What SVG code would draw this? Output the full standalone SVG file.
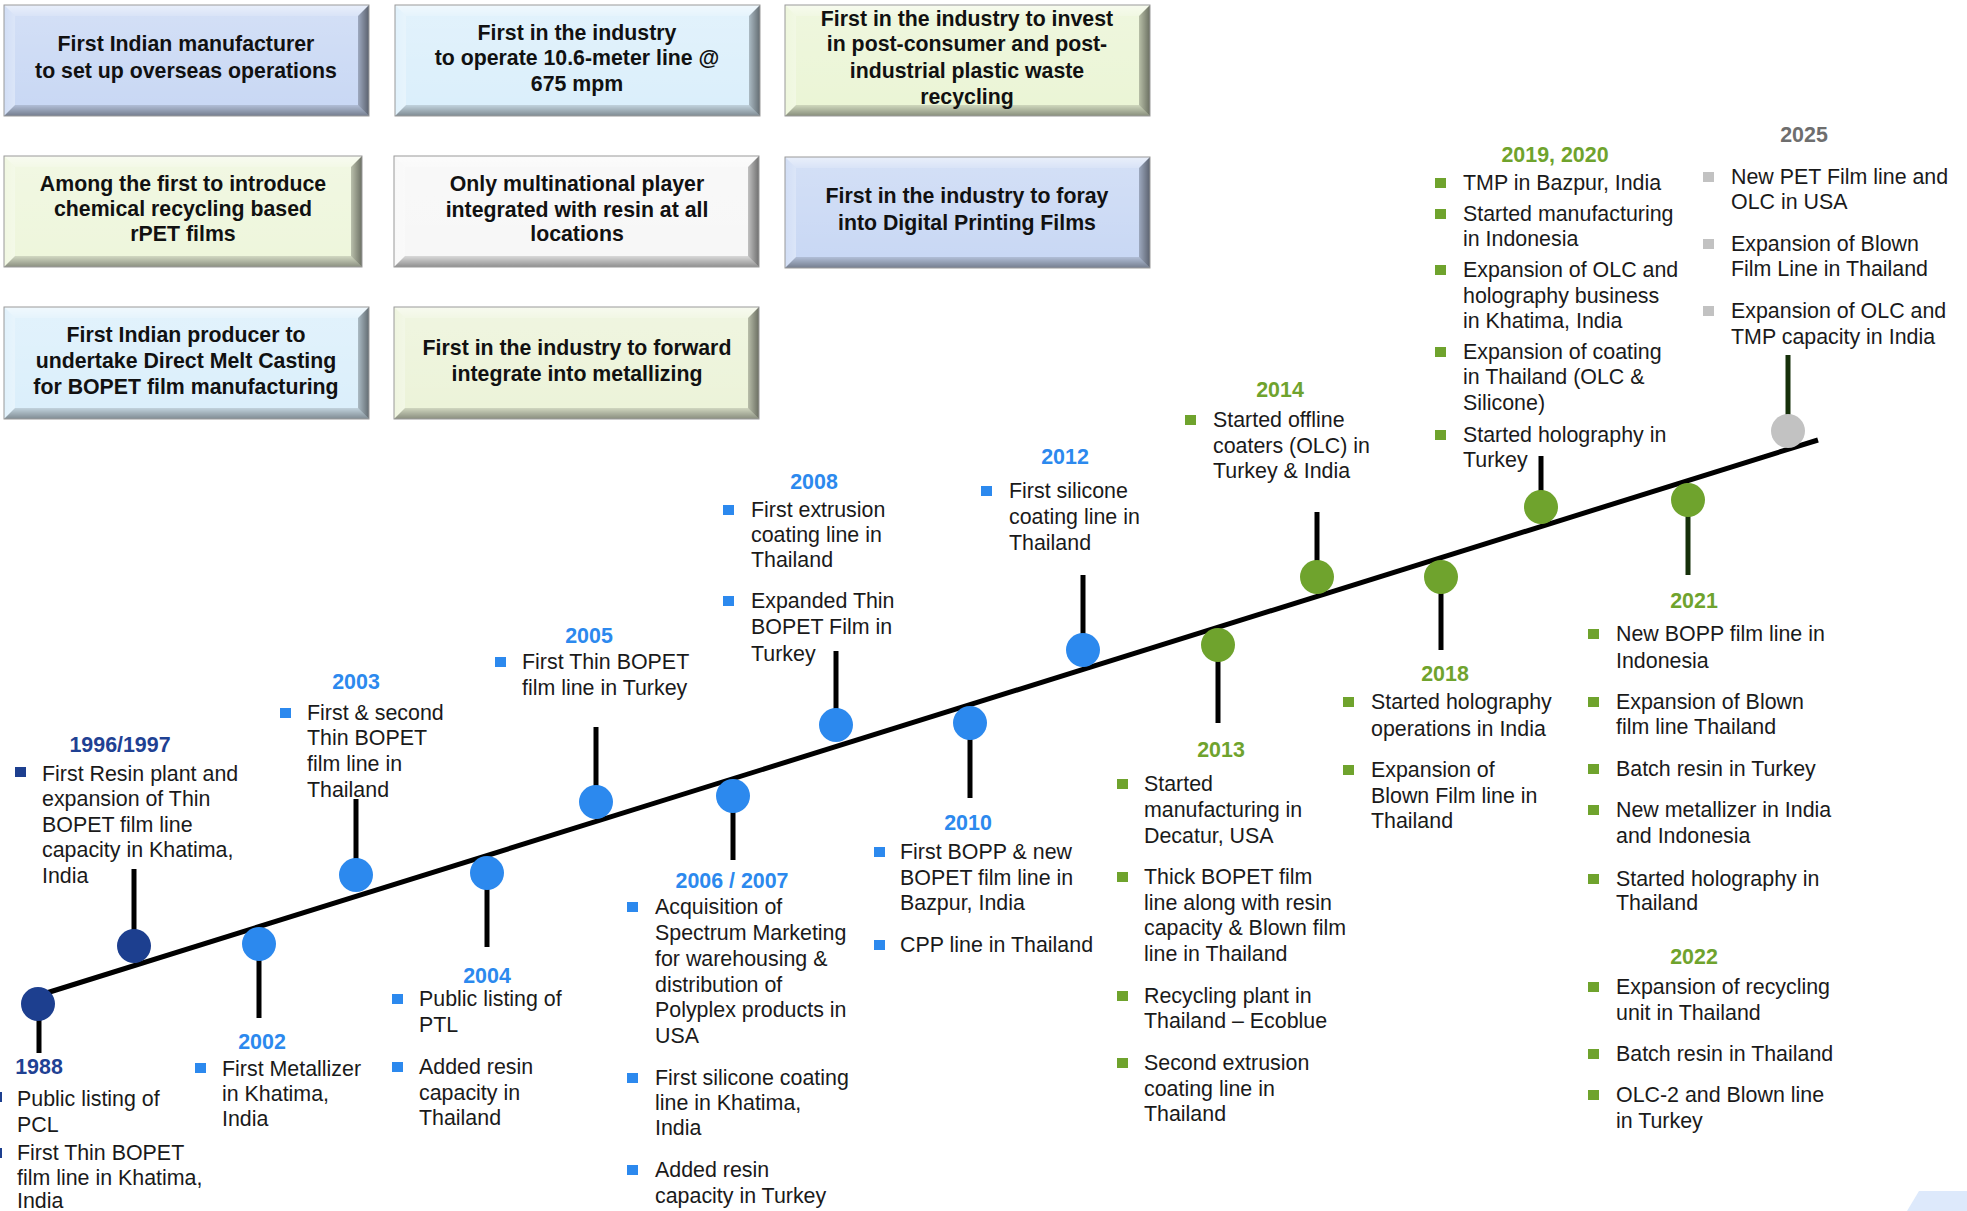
<svg xmlns="http://www.w3.org/2000/svg" width="1967" height="1211" viewBox="0 0 1967 1211">
<style>
.bt{font-family:"Liberation Sans",Arial,sans-serif;font-weight:bold;font-size:21.3px;fill:#111;text-anchor:middle}
.t{font-family:"Liberation Sans",Arial,sans-serif;font-size:21.4px;fill:#1a1a1a}
.y{font-family:"Liberation Sans",Arial,sans-serif;font-weight:bold;font-size:21.4px;text-anchor:middle}
.navy{fill:#1d3f8f}.blue{fill:#2c89ee}.green{fill:#6fa32d}.gray{fill:#c2c2c2}.gtxt{fill:#6e6e6e}
.stem{stroke:#000;stroke-width:5}
.stemg{stroke:#16300a;stroke-width:5}
.bvt{fill:url(#gTop)}.bvl{fill:url(#gLeft)}.bvb{fill:url(#gBot)}.bvr{fill:url(#gRight)}
.edge{fill:none;stroke:#9a9a9a;stroke-width:1}
</style>
<defs>
<linearGradient id="gTop" x1="0" y1="0" x2="0" y2="1"><stop offset="0" stop-color="#fff" stop-opacity="0.6"/><stop offset="1" stop-color="#fff" stop-opacity="0.3"/></linearGradient>
<linearGradient id="gLeft" x1="0" y1="0" x2="1" y2="0"><stop offset="0" stop-color="#fff" stop-opacity="0.15"/><stop offset="1" stop-color="#fff" stop-opacity="0.35"/></linearGradient>
<linearGradient id="gBot" x1="0" y1="0" x2="0" y2="1"><stop offset="0" stop-color="#000" stop-opacity="0.12"/><stop offset="1" stop-color="#000" stop-opacity="0.42"/></linearGradient>
<linearGradient id="gRight" x1="0" y1="0" x2="1" y2="0"><stop offset="0" stop-color="#000" stop-opacity="0.22"/><stop offset="1" stop-color="#000" stop-opacity="0.55"/></linearGradient>
<linearGradient id="gFace" x1="0" y1="0" x2="0" y2="1"><stop offset="0" stop-color="#fff" stop-opacity="0.18"/><stop offset="1" stop-color="#fff" stop-opacity="0"/></linearGradient>
</defs>

<!-- Top boxes -->
<g id="box1">
<rect x="4" y="5" width="365" height="111" fill="#c9d8f4"/><rect x="15" y="16" width="343" height="89" fill="url(#gFace)"/>
<polygon class="bvt" points="4,5 369,5 358,16 15,16"/><polygon class="bvl" points="4,5 15,16 15,105 4,116"/><polygon class="bvb" points="4,116 15,105 358,105 369,116"/><polygon class="bvr" points="369,5 369,116 358,105 358,16"/>
<rect class="edge" x="4" y="5" width="365" height="111"/>
<text class="bt" x="186" y="51">First Indian manufacturer</text><text class="bt" x="186" y="78">to set up overseas operations</text>
</g>
<g id="box2">
<rect x="395" y="5" width="365" height="111" fill="#dbeffb"/><rect x="406" y="16" width="343" height="89" fill="url(#gFace)"/>
<polygon class="bvt" points="395,5 760,5 749,16 406,16"/><polygon class="bvl" points="395,5 406,16 406,105 395,116"/><polygon class="bvb" points="395,116 406,105 749,105 760,116"/><polygon class="bvr" points="760,5 760,116 749,105 749,16"/>
<rect class="edge" x="395" y="5" width="365" height="111"/>
<text class="bt" x="577" y="40">First in the industry</text><text class="bt" x="577" y="65">to operate 10.6-meter line @</text><text class="bt" x="577" y="91">675 mpm</text>
</g>
<g id="box3">
<rect x="785" y="5" width="365" height="111" fill="#ebf5d6"/><rect x="796" y="16" width="343" height="89" fill="url(#gFace)"/>
<polygon class="bvt" points="785,5 1150,5 1139,16 796,16"/><polygon class="bvl" points="785,5 796,16 796,105 785,116"/><polygon class="bvb" points="785,116 796,105 1139,105 1150,116"/><polygon class="bvr" points="1150,5 1150,116 1139,105 1139,16"/>
<rect class="edge" x="785" y="5" width="365" height="111"/>
<text class="bt" x="967" y="26">First in the industry to invest</text><text class="bt" x="967" y="51">in post-consumer and post-</text><text class="bt" x="967" y="78">industrial plastic waste</text><text class="bt" x="967" y="104">recycling</text>
</g>
<g id="box4">
<rect x="4" y="156" width="358" height="111" fill="#eef6dc"/><rect x="15" y="167" width="336" height="89" fill="url(#gFace)"/>
<polygon class="bvt" points="4,156 362,156 351,167 15,167"/><polygon class="bvl" points="4,156 15,167 15,256 4,267"/><polygon class="bvb" points="4,267 15,256 351,256 362,267"/><polygon class="bvr" points="362,156 362,267 351,256 351,167"/>
<rect class="edge" x="4" y="156" width="358" height="111"/>
<text class="bt" x="183" y="191">Among the first to introduce</text><text class="bt" x="183" y="216">chemical recycling based</text><text class="bt" x="183" y="241">rPET films</text>
</g>
<g id="box5">
<rect x="394" y="156" width="365" height="111" fill="#f7f7f7"/><rect x="405" y="167" width="343" height="89" fill="url(#gFace)"/>
<polygon class="bvt" points="394,156 759,156 748,167 405,167"/><polygon class="bvl" points="394,156 405,167 405,256 394,267"/><polygon class="bvb" points="394,267 405,256 748,256 759,267"/><polygon class="bvr" points="759,156 759,267 748,256 748,167"/>
<rect class="edge" x="394" y="156" width="365" height="111"/>
<text class="bt" x="577" y="191">Only multinational player</text><text class="bt" x="577" y="217">integrated with resin at all</text><text class="bt" x="577" y="241">locations</text>
</g>
<g id="box6">
<rect x="785" y="157" width="365" height="111" fill="#c9d8f4"/><rect x="796" y="168" width="343" height="89" fill="url(#gFace)"/>
<polygon class="bvt" points="785,157 1150,157 1139,168 796,168"/><polygon class="bvl" points="785,157 796,168 796,257 785,268"/><polygon class="bvb" points="785,268 796,257 1139,257 1150,268"/><polygon class="bvr" points="1150,157 1150,268 1139,257 1139,168"/>
<rect class="edge" x="785" y="157" width="365" height="111"/>
<text class="bt" x="967" y="203">First in the industry to foray</text><text class="bt" x="967" y="230">into Digital Printing Films</text>
</g>
<g id="box7">
<rect x="4" y="307" width="365" height="112" fill="#dbeffb"/><rect x="15" y="318" width="343" height="90" fill="url(#gFace)"/>
<polygon class="bvt" points="4,307 369,307 358,318 15,318"/><polygon class="bvl" points="4,307 15,318 15,408 4,419"/><polygon class="bvb" points="4,419 15,408 358,408 369,419"/><polygon class="bvr" points="369,307 369,419 358,408 358,318"/>
<rect class="edge" x="4" y="307" width="365" height="112"/>
<text class="bt" x="186" y="342">First Indian producer to</text><text class="bt" x="186" y="368">undertake Direct Melt Casting</text><text class="bt" x="186" y="394">for BOPET film manufacturing</text>
</g>
<g id="box8">
<rect x="394" y="307" width="365" height="112" fill="#ecf3d9"/><rect x="405" y="318" width="343" height="90" fill="url(#gFace)"/>
<polygon class="bvt" points="394,307 759,307 748,318 405,318"/><polygon class="bvl" points="394,307 405,318 405,408 394,419"/><polygon class="bvb" points="394,419 405,408 748,408 759,419"/><polygon class="bvr" points="759,307 759,419 748,408 748,318"/>
<rect class="edge" x="394" y="307" width="365" height="112"/>
<text class="bt" x="577" y="355">First in the industry to forward</text><text class="bt" x="577" y="381">integrate into metallizing</text>
</g>

<!-- Connectors: timeline axis and stems -->
<g id="connectors">
<line x1="40" y1="995" x2="1818" y2="440" stroke="#000" stroke-width="5"/>
<line class="stem" x1="39" y1="1004" x2="39" y2="1053"/>
<line class="stem" x1="134" y1="869" x2="134" y2="946"/>
<line class="stem" x1="259" y1="944" x2="259" y2="1018"/>
<line class="stem" x1="356" y1="799" x2="356" y2="875"/>
<line class="stem" x1="487" y1="873" x2="487" y2="947"/>
<line class="stem" x1="596" y1="727" x2="596" y2="802"/>
<line class="stem" x1="733" y1="796" x2="733" y2="860"/>
<line class="stem" x1="836" y1="651" x2="836" y2="725"/>
<line class="stem" x1="970" y1="723" x2="970" y2="798"/>
<line class="stem" x1="1083" y1="575" x2="1083" y2="650"/>
<line class="stem" x1="1218" y1="645" x2="1218" y2="723"/>
<line class="stem" x1="1317" y1="512" x2="1317" y2="577"/>
<line class="stem" x1="1441" y1="577" x2="1441" y2="650"/>
<line class="stem" x1="1541" y1="456" x2="1541" y2="507"/>
<line class="stemg" x1="1688" y1="500" x2="1688" y2="575"/>
<line class="stemg" x1="1788" y1="355" x2="1788" y2="431"/>
</g>

<!-- Milestones -->
<g id="m1988">
<circle class="navy" cx="38" cy="1004" r="17"/>
<text class="y" x="39" y="1074" fill="#1f4193">1988</text>
<rect class="navy" x="-8" y="1092" width="10" height="10"/><rect class="navy" x="-8" y="1148" width="10" height="10"/>
<text class="t" x="17" y="1106">Public listing of</text><text class="t" x="17" y="1132">PCL</text>
<text class="t" x="17" y="1160">First Thin BOPET</text><text class="t" x="17" y="1185">film line in Khatima,</text><text class="t" x="17" y="1208">India</text>
</g>
<g id="m1996">
<circle class="navy" cx="134" cy="946" r="17"/>
<text class="y" x="120" y="752" fill="#1f4193">1996/1997</text>
<rect class="navy" x="15" y="767" width="11" height="10"/>
<text class="t" x="42" y="781">First Resin plant and</text><text class="t" x="42" y="806">expansion of Thin</text><text class="t" x="42" y="832">BOPET film line</text><text class="t" x="42" y="857">capacity in Khatima,</text><text class="t" x="42" y="883">India</text>
</g>
<g id="m2002">
<circle class="blue" cx="259" cy="944" r="17"/>
<text class="y blue" x="262" y="1049">2002</text>
<rect class="blue" x="195" y="1063" width="11" height="10"/>
<text class="t" x="222" y="1076">First Metallizer</text><text class="t" x="222" y="1101">in Khatima,</text><text class="t" x="222" y="1126">India</text>
</g>
<g id="m2003">
<circle class="blue" cx="356" cy="875" r="17"/>
<text class="y blue" x="356" y="689">2003</text>
<rect class="blue" x="280" y="708" width="11" height="10"/>
<text class="t" x="307" y="720">First &amp; second</text><text class="t" x="307" y="745">Thin BOPET</text><text class="t" x="307" y="771">film line in</text><text class="t" x="307" y="797">Thailand</text>
</g>
<g id="m2004">
<circle class="blue" cx="487" cy="873" r="17"/>
<text class="y blue" x="487" y="983">2004</text>
<rect class="blue" x="392" y="994" width="11" height="10"/><rect class="blue" x="392" y="1062" width="11" height="10"/>
<text class="t" x="419" y="1006">Public listing of</text><text class="t" x="419" y="1032">PTL</text>
<text class="t" x="419" y="1074">Added resin</text><text class="t" x="419" y="1100">capacity in</text><text class="t" x="419" y="1125">Thailand</text>
</g>
<g id="m2005">
<circle class="blue" cx="596" cy="802" r="17"/>
<text class="y blue" x="589" y="643">2005</text>
<rect class="blue" x="495" y="657" width="11" height="10"/>
<text class="t" x="522" y="669">First Thin BOPET</text><text class="t" x="522" y="695">film line in Turkey</text>
</g>
<g id="m2006">
<circle class="blue" cx="733" cy="796" r="17"/>
<text class="y blue" x="732" y="888">2006 / 2007</text>
<rect class="blue" x="627" y="902" width="11" height="10"/><rect class="blue" x="627" y="1073" width="11" height="10"/><rect class="blue" x="627" y="1165" width="11" height="10"/>
<text class="t" x="655" y="914">Acquisition of</text><text class="t" x="655" y="940">Spectrum Marketing</text><text class="t" x="655" y="966">for warehousing &amp;</text><text class="t" x="655" y="992">distribution of</text><text class="t" x="655" y="1017">Polyplex products in</text><text class="t" x="655" y="1043">USA</text>
<text class="t" x="655" y="1085">First silicone coating</text><text class="t" x="655" y="1110">line in Khatima,</text><text class="t" x="655" y="1135">India</text>
<text class="t" x="655" y="1177">Added resin</text><text class="t" x="655" y="1203">capacity in Turkey</text>
</g>
<g id="m2008">
<circle class="blue" cx="836" cy="725" r="17"/>
<text class="y blue" x="814" y="489">2008</text>
<rect class="blue" x="723" y="505" width="11" height="10"/><rect class="blue" x="723" y="596" width="11" height="10"/>
<text class="t" x="751" y="517">First extrusion</text><text class="t" x="751" y="542">coating line in</text><text class="t" x="751" y="567">Thailand</text>
<text class="t" x="751" y="608">Expanded Thin</text><text class="t" x="751" y="634">BOPET Film in</text><text class="t" x="751" y="661">Turkey</text>
</g>
<g id="m2010">
<circle class="blue" cx="970" cy="723" r="17"/>
<text class="y blue" x="968" y="830">2010</text>
<rect class="blue" x="874" y="847" width="11" height="10"/><rect class="blue" x="874" y="940" width="11" height="10"/>
<text class="t" x="900" y="859">First BOPP &amp; new</text><text class="t" x="900" y="885">BOPET film line in</text><text class="t" x="900" y="910">Bazpur, India</text>
<text class="t" x="900" y="952">CPP line in Thailand</text>
</g>
<g id="m2012">
<circle class="blue" cx="1083" cy="650" r="17"/>
<text class="y blue" x="1065" y="464">2012</text>
<rect class="blue" x="981" y="486" width="11" height="10"/>
<text class="t" x="1009" y="498">First silicone</text><text class="t" x="1009" y="524">coating line in</text><text class="t" x="1009" y="550">Thailand</text>
</g>
<g id="m2013">
<circle class="green" cx="1218" cy="645" r="17"/>
<text class="y green" x="1221" y="757">2013</text>
<rect class="green" x="1117" y="779" width="11" height="10"/><rect class="green" x="1117" y="872" width="11" height="10"/><rect class="green" x="1117" y="991" width="11" height="10"/><rect class="green" x="1117" y="1058" width="11" height="10"/>
<text class="t" x="1144" y="791">Started</text><text class="t" x="1144" y="817">manufacturing in</text><text class="t" x="1144" y="843">Decatur, USA</text>
<text class="t" x="1144" y="884">Thick BOPET film</text><text class="t" x="1144" y="910">line along with resin</text><text class="t" x="1144" y="935">capacity &amp; Blown film</text><text class="t" x="1144" y="961">line in Thailand</text>
<text class="t" x="1144" y="1003">Recycling plant in</text><text class="t" x="1144" y="1028">Thailand – Ecoblue</text>
<text class="t" x="1144" y="1070">Second extrusion</text><text class="t" x="1144" y="1096">coating line in</text><text class="t" x="1144" y="1121">Thailand</text>
</g>
<g id="m2014">
<circle class="green" cx="1317" cy="577" r="17"/>
<text class="y green" x="1280" y="397">2014</text>
<rect class="green" x="1185" y="415" width="11" height="10"/>
<text class="t" x="1213" y="427">Started offline</text><text class="t" x="1213" y="453">coaters (OLC) in</text><text class="t" x="1213" y="478">Turkey &amp; India</text>
</g>
<g id="m2018">
<circle class="green" cx="1441" cy="577" r="17"/>
<text class="y green" x="1445" y="681">2018</text>
<rect class="green" x="1343" y="697" width="11" height="10"/><rect class="green" x="1343" y="765" width="11" height="10"/>
<text class="t" x="1371" y="709">Started holography</text><text class="t" x="1371" y="736">operations in India</text>
<text class="t" x="1371" y="777">Expansion of</text><text class="t" x="1371" y="803">Blown Film line in</text><text class="t" x="1371" y="828">Thailand</text>
</g>
<g id="m2019">
<circle class="green" cx="1541" cy="507" r="17"/>
<text class="y green" x="1555" y="162">2019, 2020</text>
<rect class="green" x="1435" y="178" width="11" height="10"/><rect class="green" x="1435" y="209" width="11" height="10"/><rect class="green" x="1435" y="265" width="11" height="10"/><rect class="green" x="1435" y="347" width="11" height="10"/><rect class="green" x="1435" y="430" width="11" height="10"/>
<text class="t" x="1463" y="190">TMP in Bazpur, India</text>
<text class="t" x="1463" y="221">Started manufacturing</text><text class="t" x="1463" y="246">in Indonesia</text>
<text class="t" x="1463" y="277">Expansion of OLC and</text><text class="t" x="1463" y="303">holography business</text><text class="t" x="1463" y="328">in Khatima, India</text>
<text class="t" x="1463" y="359">Expansion of coating</text><text class="t" x="1463" y="384">in Thailand (OLC &amp;</text><text class="t" x="1463" y="410">Silicone)</text>
<text class="t" x="1463" y="442">Started holography in</text><text class="t" x="1463" y="467">Turkey</text>
</g>
<g id="m2021">
<circle class="green" cx="1688" cy="500" r="17"/>
<text class="y green" x="1694" y="608">2021</text>
<rect class="green" x="1588" y="629" width="11" height="10"/><rect class="green" x="1588" y="697" width="11" height="10"/><rect class="green" x="1588" y="764" width="11" height="10"/><rect class="green" x="1588" y="805" width="11" height="10"/><rect class="green" x="1588" y="874" width="11" height="10"/>
<text class="t" x="1616" y="641">New BOPP film line in</text><text class="t" x="1616" y="668">Indonesia</text>
<text class="t" x="1616" y="709">Expansion of Blown</text><text class="t" x="1616" y="734">film line Thailand</text>
<text class="t" x="1616" y="776">Batch resin in Turkey</text>
<text class="t" x="1616" y="817">New metallizer in India</text><text class="t" x="1616" y="843">and Indonesia</text>
<text class="t" x="1616" y="886">Started holography in</text><text class="t" x="1616" y="910">Thailand</text>
</g>
<g id="m2022">
<text class="y green" x="1694" y="964">2022</text>
<rect class="green" x="1588" y="982" width="11" height="10"/><rect class="green" x="1588" y="1049" width="11" height="10"/><rect class="green" x="1588" y="1090" width="11" height="10"/>
<text class="t" x="1616" y="994">Expansion of recycling</text><text class="t" x="1616" y="1020">unit in Thailand</text>
<text class="t" x="1616" y="1061">Batch resin in Thailand</text>
<text class="t" x="1616" y="1102">OLC-2 and Blown line</text><text class="t" x="1616" y="1128">in Turkey</text>
</g>
<g id="m2025">
<circle class="gray" cx="1788" cy="431" r="17"/>
<text class="y gtxt" x="1804" y="142">2025</text>
<rect class="gray" x="1703" y="172" width="11" height="10"/><rect class="gray" x="1703" y="239" width="11" height="10"/><rect class="gray" x="1703" y="306" width="11" height="10"/>
<text class="t" x="1731" y="184">New PET Film line and</text><text class="t" x="1731" y="209">OLC in USA</text>
<text class="t" x="1731" y="251">Expansion of Blown</text><text class="t" x="1731" y="276">Film Line in Thailand</text>
<text class="t" x="1731" y="318">Expansion of OLC and</text><text class="t" x="1731" y="344">TMP capacity in India</text>
</g>
<polygon points="1919,1191 1967,1191 1967,1211 1907,1211" fill="#dde9fb"/>
</svg>
